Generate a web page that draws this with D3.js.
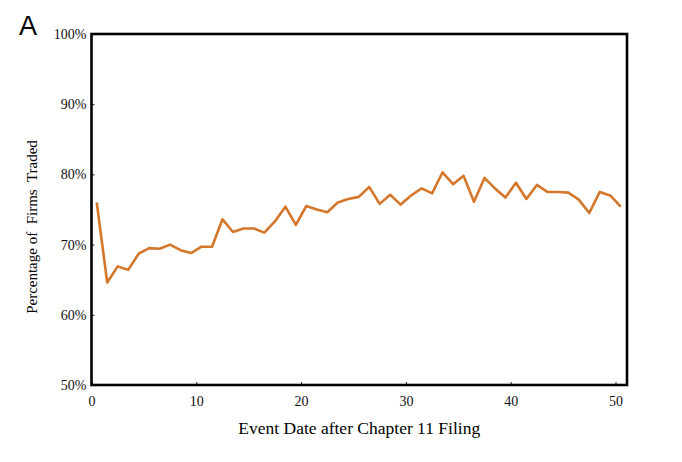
<!DOCTYPE html>
<html><head><meta charset="utf-8">
<script src="https://cdn.jsdelivr.net/npm/d3@7"></script>
<style>body{margin:0;background:#fff}svg{display:block}</style>
</head><body>
<svg id="c" width="682" height="462"></svg>
<script>
const eventDays = d3.range(0.5, 51, 1);
const pctTraded = [76.0,64.6,66.9,66.4,68.7,69.5,69.4,70.0,69.2,68.8,69.7,69.7,73.6,71.8,72.3,72.3,71.7,73.3,75.4,72.8,75.5,75.0,74.6,76.0,76.5,76.8,78.2,75.8,77.1,75.7,77.0,78.0,77.3,80.3,78.6,79.8,76.1,79.5,78.0,76.7,78.8,76.5,78.5,77.5,77.5,77.4,76.4,74.5,77.5,77.0,75.4];
const xTicks = [0,10,20,30,40,50];
const yTicks = [50,60,70,80,90,100];

const svg = d3.select("#c");
const L=91.5,R=627,T=34,B=385;
const x = d3.scaleLinear().domain([0,51.1]).range([L,R]);
const y = d3.scaleLinear().domain([50,100]).range([B,T]);
const serif = "'Liberation Serif','Times New Roman',serif";

const xa = svg.append("g").attr("transform",`translate(0,${B})`)
  .call(d3.axisBottom(x).tickValues(xTicks).tickSize(-3).tickPadding(11).tickFormat(d3.format("d")));
const ya = svg.append("g").attr("transform",`translate(${L},0)`)
  .call(d3.axisLeft(y).tickValues(yTicks).tickSize(-3).tickPadding(5).tickFormat(d=>d+"%"));
[xa,ya].forEach(a=>{a.select(".domain").remove();
  a.selectAll("text").attr("font-family",serif).attr("font-size",14).attr("fill","#111");
  a.selectAll("line").attr("stroke","#222");});

svg.append("path").datum(d3.range(eventDays.length))
  .attr("fill","none").attr("stroke","#d4772b").attr("stroke-width",2.6).attr("stroke-linejoin","round")
  .attr("d",d3.line().x(i=>x(eventDays[i])).y(i=>y(pctTraded[i])));

svg.append("rect").attr("x",L).attr("y",T).attr("width",R-L).attr("height",B-T)
  .attr("fill","none").attr("stroke","#000").attr("stroke-width",2.6);

svg.append("text").attr("x",(L+R)/2).attr("y",434).attr("text-anchor","middle")
  .attr("font-family",serif).attr("font-size",17.5).text("Event Date after Chapter 11 Filing");
svg.append("text").attr("transform",`translate(37,227) rotate(-90)`).attr("text-anchor","middle")
  .attr("font-family",serif).attr("font-size",15).attr("xml:space","preserve").text("Percentage of  Firms  Traded");
svg.append("text").attr("x",19).attr("y",35).attr("font-family","'Liberation Sans',Arial,sans-serif")
  .attr("font-size",27).text("A");
</script>
</body></html>
